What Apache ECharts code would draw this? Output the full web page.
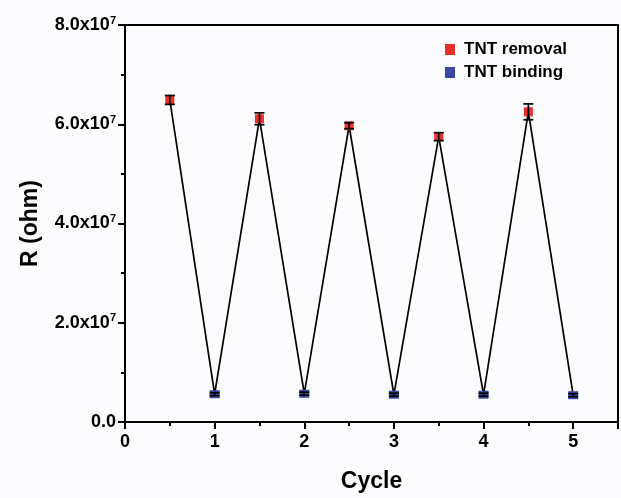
<!DOCTYPE html>
<html><head><meta charset="utf-8">
<script src="https://cdn.jsdelivr.net/npm/echarts@6/dist/echarts.min.js"></script>
<style>html,body{margin:0;padding:0;background:#fcfbfd;}#c{width:621px;height:498px;}</style>
</head><body><div id="c"></div>
<script>
const removalX = [0.5, 1.5, 2.5, 3.5, 4.5];
const removalY = [6.49e7, 6.11e7, 5.97e7, 5.75e7, 6.25e7];
const removalErr = [0.09e7, 0.12e7, 0.06e7, 0.08e7, 0.16e7];
const bindingX = [1, 2, 3, 4, 5];
const bindingY = [0.56e7, 0.57e7, 0.55e7, 0.55e7, 0.54e7];
const bindingErr = [0.03e7, 0.03e7, 0.03e7, 0.03e7, 0.03e7];
const xTicks = [0, 1, 2, 3, 4, 5];
const yTickLabels = ['0.0', '2.0x10', '4.0x10', '6.0x10', '8.0x10'];

const red = '#e8302a', blue = '#3a47a3';
const removal = removalX.map((x, i) => [x, removalY[i], removalErr[i]]);
const binding = bindingX.map((x, i) => [x, bindingY[i], bindingErr[i]]);
const all = removal.concat(binding).sort((a, b) => a[0] - b[0]).map(d => [d[0], d[1]]);

function errRender(params, api) {
  const x = api.value(0), y = api.value(1), e = api.value(2);
  const t = api.coord([x, y + e]), b = api.coord([x, y - e]);
  const hw = 5, st = {stroke: '#000', lineWidth: 1.7};
  return {type: 'group', children: [
    {type: 'line', shape: {x1: t[0], y1: t[1], x2: b[0], y2: b[1]}, style: st},
    {type: 'line', shape: {x1: t[0] - hw, y1: t[1], x2: t[0] + hw, y2: t[1]}, style: st},
    {type: 'line', shape: {x1: b[0] - hw, y1: b[1], x2: b[0] + hw, y2: b[1]}, style: st}
  ]};
}

const chart = echarts.init(document.getElementById('c'));
const font = 'Liberation Sans, Arial, sans-serif';
chart.setOption({
  backgroundColor: '#fcfbfd',
  animation: false,
  grid: {left: 125, right: 2, top: 25, bottom: 74, show: true, borderColor: '#000', borderWidth: 2, backgroundColor: 'transparent'},
  legend: {
    data: ['TNT removal', 'TNT binding'], orient: 'vertical', left: 440, top: 36,
    icon: 'rect', itemWidth: 10, itemHeight: 11, itemGap: 6,
    textStyle: {fontFamily: font, fontWeight: 'bold', fontSize: 17, color: '#000', padding: [0, 0, 0, 4]}
  },
  xAxis: {
    type: 'value', min: 0, max: 5.5, interval: 1,
    name: 'Cycle', nameLocation: 'middle', nameGap: 48,
    nameTextStyle: {fontFamily: font, fontWeight: 'bold', fontSize: 23, color: '#000'},
    axisLine: {show: true, onZero: false, lineStyle: {color: '#000', width: 2}},
    axisTick: {show: true, length: 7, lineStyle: {color: '#000', width: 2}},
    minorTick: {show: true, splitNumber: 2, length: 4, lineStyle: {color: '#000', width: 2}},
    splitLine: {show: false},
    axisLabel: {
      fontFamily: font, fontWeight: 'bold', fontSize: 18, color: '#000', margin: 11,
      formatter: v => xTicks.indexOf(v) >= 0 ? String(v) : ''
    }
  },
  yAxis: {
    type: 'value', min: 0, max: 8e7, interval: 2e7,
    name: 'R (ohm)', nameLocation: 'middle', nameGap: 83, nameRotate: 90,
    nameTextStyle: {fontFamily: font, fontWeight: 'bold', fontSize: 23, color: '#000'},
    axisLine: {show: true, lineStyle: {color: '#000', width: 2}},
    axisTick: {show: true, length: 7, lineStyle: {color: '#000', width: 2}},
    minorTick: {show: true, splitNumber: 2, length: 4, lineStyle: {color: '#000', width: 2}},
    splitLine: {show: false},
    axisLabel: {
      margin: 9,
      formatter: (v) => {
        const i = Math.round(v / 2e7);
        const s = yTickLabels[i];
        return i === 0 ? '{a|' + s + '}' : '{a|' + s + '}{s|7}';
      },
      rich: {
        a: {fontFamily: font, fontWeight: 'bold', fontSize: 18, color: '#000'},
        s: {fontFamily: font, fontWeight: 'bold', fontSize: 11, color: '#000', verticalAlign: 'top', padding: [0, 0, 9, 0]}
      }
    }
  },
  series: [
    {type: 'line', data: all, symbol: 'none', silent: true, lineStyle: {color: '#000', width: 1.7}, z: 1},
    {name: 'TNT removal', type: 'scatter', data: removal.map(d => [d[0], d[1]]), symbol: 'rect', symbolSize: [9, 9], itemStyle: {color: red, opacity: 1}, z: 2},
    {name: 'TNT binding', type: 'scatter', data: binding.map(d => [d[0], d[1]]), symbol: 'rect', symbolSize: [10, 8], itemStyle: {color: blue, opacity: 1}, z: 2},
    {type: 'custom', data: removal, renderItem: errRender, silent: true, z: 3},
    {type: 'custom', data: binding, renderItem: errRender, silent: true, z: 3}
  ]
});
</script></body></html>
